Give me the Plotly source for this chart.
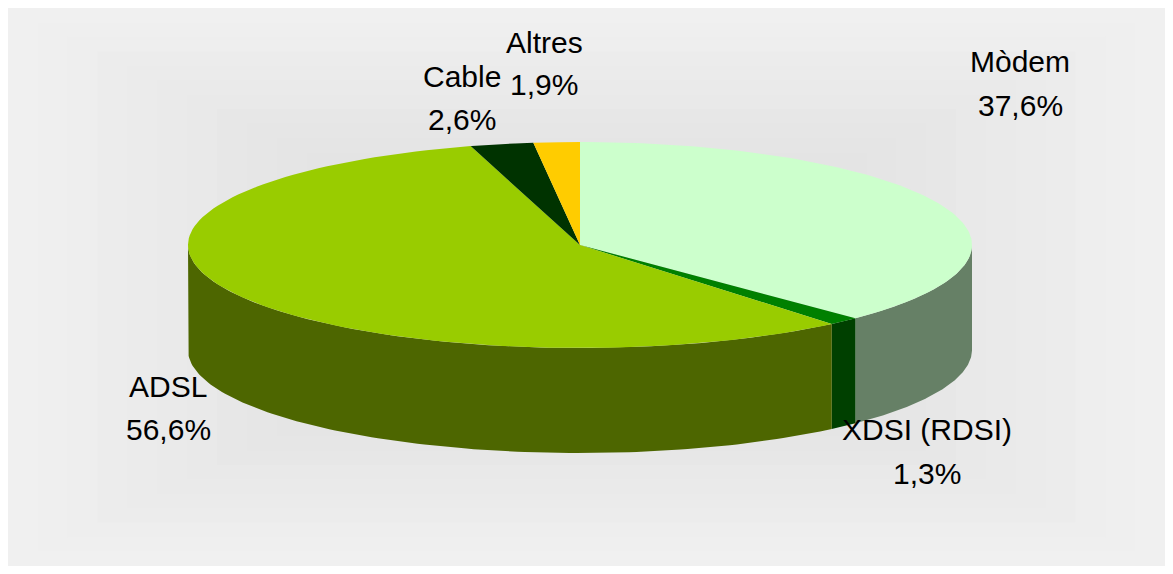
import numpy as np
import plotly.graph_objects as go

# Data
categories = ["Mòdem", "XDSI (RDSI)", "ADSL", "Cable", "Altres"]
values = [37.6, 1.3, 56.6, 2.6, 1.9]

# Style
top_colors = ["#CCFFCC", "#008000", "#99CC00", "#003300", "#FFCC00"]
side_colors = ["#668066", "#004000", "#4D6600", "#001A00", "#806600"]
label_x = [1020, 927, 168, 462, 544]
label_y1 = [61, 429, 386, 76, 42]
label_y2 = [105, 473, 429, 119, 84]

CX, CY, RX, RY, DEPTH = 580, 245, 392, 103, 105
PANEL = (8, 8, 1165, 566)


def arc(a0, a1, dy=0):
    t = np.radians(np.linspace(a0, a1, 120))
    return CX + RX * np.sin(t), CY + dy - RY * np.cos(t)


fig = go.Figure()

# slice boundaries, clockwise from 12 o'clock
ends = np.cumsum(values) / np.sum(values) * 360
starts = np.concatenate([[0], ends[:-1]])

# side walls: only the front half of the disc
for a0, a1, col in zip(starts, ends, side_colors):
    lo, hi = max(a0, 90), min(a1, 270)
    if lo >= hi:
        continue
    x1, y1 = arc(lo, hi)
    x2, y2 = arc(hi, lo, DEPTH)
    fig.add_trace(go.Scatter(x=np.r_[x1, x2], y=np.r_[y1, y2], mode="lines",
                             fill="toself", fillcolor=col, line=dict(width=0),
                             hoverinfo="skip", showlegend=False))

# top faces
for a0, a1, col, name in zip(starts, ends, top_colors, categories):
    x1, y1 = arc(a0, a1)
    fig.add_trace(go.Scatter(x=np.r_[CX, x1, CX], y=np.r_[CY, y1, CY], mode="lines",
                             fill="toself", fillcolor=col, line=dict(width=0),
                             name=name, hoverinfo="name", showlegend=False))

# labels
font = dict(family="Liberation Sans, Arial, sans-serif", size=30, color="#000000")
for name, v, x, y1, y2 in zip(categories, values, label_x, label_y1, label_y2):
    pct = f"{v:.1f}%".replace(".", ",")
    fig.add_annotation(x=x, y=y1, text=name, showarrow=False, font=font, xanchor="center", yanchor="middle")
    fig.add_annotation(x=x, y=y2, text=pct, showarrow=False, font=font, xanchor="center", yanchor="middle")

# background: rectangular gradient of nested rectangles
shapes = []
n = 24
x0, y0, x1, y1 = PANEL
for i in range(n):
    t = i / n * 0.62
    g = round(240 - (240 - 212) * (i / (n - 1)))
    hx, hy = (x1 - x0) * t, (y1 - y0) * t
    shapes.append(dict(type="rect", xref="x", yref="y", layer="below",
                       x0=x0 + hx, x1=x1 - hx, y0=y0 + hy, y1=y1 - hy,
                       fillcolor=f"rgb({g},{g},{g})", line=dict(width=0)))

fig.update_layout(
    width=1157, height=558, margin=dict(l=0, r=0, t=0, b=0),
    paper_bgcolor="white", plot_bgcolor="white", shapes=shapes, showlegend=False,
    xaxis=dict(range=[x0, x1], visible=False, fixedrange=True),
    yaxis=dict(range=[y1, y0], visible=False, fixedrange=True),
)
fig.write_html("out.html", config=dict(displayModeBar=False))
